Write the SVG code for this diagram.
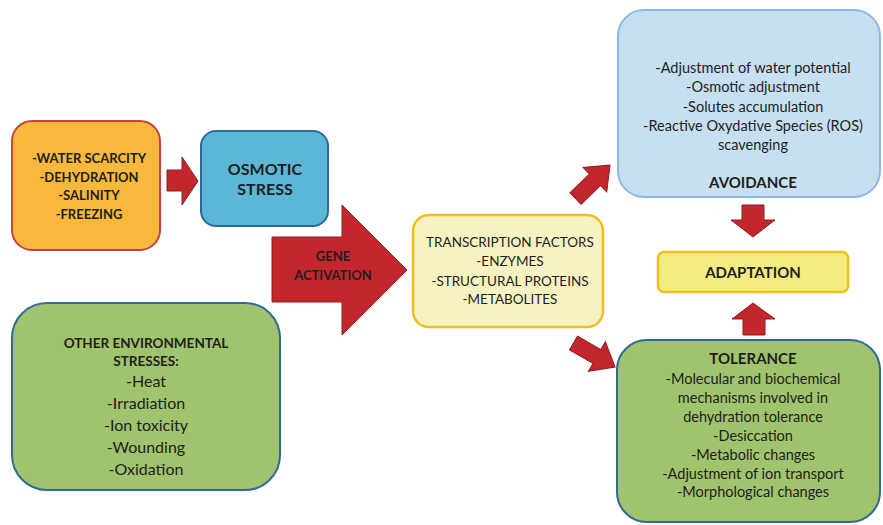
<svg xmlns="http://www.w3.org/2000/svg" width="883" height="525" viewBox="0 0 883 525">
<style>
text{font-family:Lato,"Liberation Sans",sans-serif;fill:#1e1e1e;text-anchor:middle}
.b{font-weight:700}
.t{font-size:14.5px}
.arrow{fill:#c1272d;stroke:#951b1f;stroke-width:1;stroke-linejoin:miter}
</style>
<rect width="883" height="525" fill="#ffffff"/>
<g id="connectors">
<polygon class="arrow" points="167,170 182,170 182,157 198,181 182,205 182,191 167,191"/>
<polygon class="arrow" points="272,237 342,237 342,205 407,270 342,335 342,302 272,302"/>
<polygon class="arrow" transform="translate(575.5,198.5) rotate(-44)" points="0,-8 27,-8 27,-17 48,0 27,17 27,8 0,8"/>
<polygon class="arrow" transform="translate(573.5,343) rotate(30)" points="0,-8 27,-8 27,-17 48,0 27,17 27,8 0,8"/>
<polygon class="arrow" points="742,205 764,205 764,220 775,220 753,237 731,220 742,220"/>
<polygon class="arrow" points="743,335 765,335 765,319 775,319 753,303 732,319 743,319"/>
</g>
<g id="stresses">
<rect x="12" y="121" width="148" height="129" rx="20" fill="#f8b83b" stroke="#c9423f" stroke-width="2"/>
<text class="b" font-size="13" x="89" y="163">-WATER SCARCITY</text>
<text class="b" font-size="13" x="89" y="181.5">-DEHYDRATION</text>
<text class="b" font-size="13" x="89" y="200">-SALINITY</text>
<text class="b" font-size="13" x="89" y="218.5">-FREEZING</text>
</g>
<g id="osmotic">
<rect x="201" y="131" width="127" height="95" rx="15" fill="#5cb7d7" stroke="#2c6a9a" stroke-width="2"/>
<text class="b" font-size="16" x="265" y="175">OSMOTIC</text>
<text class="b" font-size="16" x="265" y="195">STRESS</text>
</g>
<g id="gene-activation">
<text class="b" font-size="13" x="333" y="261">GENE</text>
<text class="b" font-size="13" x="333" y="280">ACTIVATION</text>
</g>
<g id="other">
<rect x="12" y="303" width="268" height="187" rx="35" fill="#a0c36d" stroke="#2f6a9a" stroke-width="2"/>
<text class="b" font-size="13.5" x="146" y="348">OTHER ENVIRONMENTAL</text>
<text class="b" font-size="13.5" x="146" y="366">STRESSES:</text>
<text font-size="16" x="146" y="387">-Heat</text>
<text font-size="16" x="146" y="409">-Irradiation</text>
<text font-size="16" x="146" y="431">-Ion toxicity</text>
<text font-size="16" x="146" y="453">-Wounding</text>
<text font-size="16" x="146" y="475">-Oxidation</text>
</g>
<g id="products">
<rect x="413" y="215" width="190" height="112" rx="16" fill="#f7f2c1" stroke="#f1be1e" stroke-width="2.5"/>
<text font-size="13.5" x="510" y="247">TRANSCRIPTION FACTORS</text>
<text font-size="13.5" x="510" y="266">-ENZYMES</text>
<text font-size="13.5" x="510" y="285.5">-STRUCTURAL PROTEINS</text>
<text font-size="13.5" x="510" y="304">-METABOLITES</text>
</g>
<g id="avoidance">
<rect x="618" y="10" width="262" height="187" rx="26" fill="#c6e0f1" stroke="#8fb7df" stroke-width="2"/>
<text class="t" x="753" y="73">-Adjustment of water potential</text>
<text class="t" x="753" y="92">-Osmotic adjustment</text>
<text class="t" x="753" y="111.5">-Solutes accumulation</text>
<text class="t" x="753" y="130.5">-Reactive Oxydative Species (ROS)</text>
<text class="t" x="753" y="149.5">scavenging</text>
<text class="b" font-size="15" x="753" y="188">AVOIDANCE</text>
</g>
<g id="adaptation">
<rect x="658" y="252" width="190" height="40" rx="6" fill="#f4ec80" stroke="#f1be1e" stroke-width="2.5"/>
<text class="b" font-size="15" x="753" y="278">ADAPTATION</text>
</g>
<g id="tolerance">
<rect x="617" y="340" width="263" height="182" rx="30" fill="#a0c36d" stroke="#2f6a9a" stroke-width="2"/>
<text class="b" font-size="15" x="753" y="364">TOLERANCE</text>
<text class="t" x="753" y="384">-Molecular and biochemical</text>
<text class="t" x="753" y="403">mechanisms involved in</text>
<text class="t" x="753" y="422">dehydration tolerance</text>
<text class="t" x="753" y="441">-Desiccation</text>
<text class="t" x="753" y="459.5">-Metabolic changes</text>
<text class="t" x="753" y="478.5">-Adjustment of ion transport</text>
<text class="t" x="753" y="497">-Morphological changes</text>
</g>
</svg>
